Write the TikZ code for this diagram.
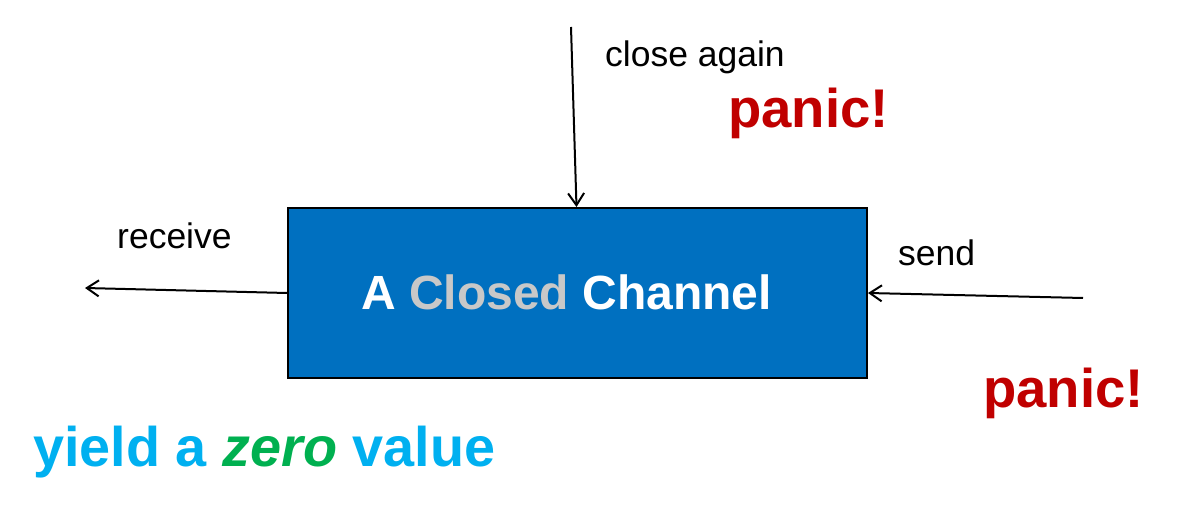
\documentclass[tikz,border=0pt]{standalone}
\usepackage{fontspec}
\setmainfont{Liberation Sans}
\usetikzlibrary{arrows.meta,calc}
\definecolor{boxblue}{HTML}{0070C0}
\definecolor{panicred}{HTML}{C00000}
\definecolor{closedgrey}{HTML}{C8C8C8}
\definecolor{yieldblue}{HTML}{00B0F0}
\definecolor{zerogreen}{HTML}{00B050}
\tikzset{
  lbl/.style={inner sep=0pt, anchor=base west, font=\fontsize{35.5}{40}\selectfont},
  panictxt/.style={inner sep=0pt, anchor=base west, text=panicred, font=\fontsize{54.5}{60}\selectfont\bfseries},
  conn/.style={line width=2pt, -{Straight Barb[length=12pt,width=16pt,line width=2pt]}},
  chanbox/.style={draw=black, line width=2pt, fill=boxblue, minimum width=579pt, minimum height=170pt, inner sep=0pt}
}
\begin{document}
\begin{tikzpicture}[x=1pt,y=-1pt]
\useasboundingbox (0,0) rectangle (1195,513);
\node[chanbox] (box) at (577.5,293) {};
\node[inner sep=0pt, anchor=base west, text=white, font=\fontsize{48}{54}\selectfont\bfseries] (title) at (361,309) {A \textcolor{closedgrey}{Closed} Channel};
\node[lbl] (recv) at (117,249) {receive};
\node[lbl] (close) at (605,67) {close again};
\node[lbl] (send) at (898,266) {send};
\node[panictxt] (panic1) at (728,128) {panic!};
\node[panictxt] (panic2) at (983,407) {panic!};
\node[inner sep=0pt, anchor=base west, text=yieldblue, font=\fontsize{55.8}{62}\selectfont\bfseries] (yield) at (33,466) {yield a \textcolor{zerogreen}{\itshape zero} value};
\coordinate (ctop) at (571,27);
\coordinate (cleft) at (85,288);
\coordinate (cright) at (1083,298);
\draw[conn] (ctop) -- ([xshift=289.5pt]box.north west);
\draw[conn] (box.west) -- (cleft);
\draw[conn] (cright) -- (box.east);
\end{tikzpicture}
\end{document}
